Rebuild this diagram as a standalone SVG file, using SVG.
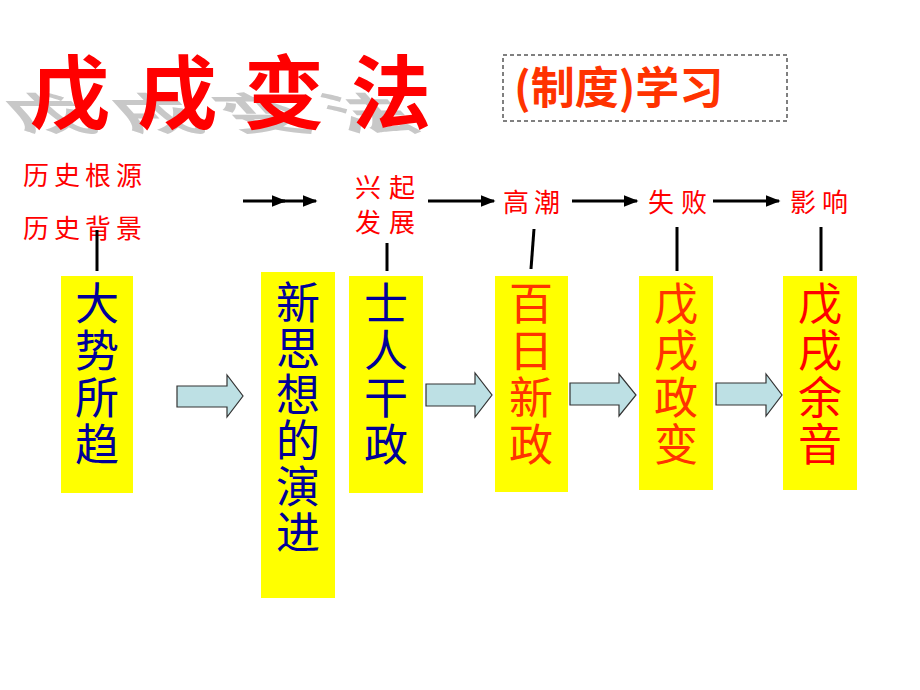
<svg xmlns="http://www.w3.org/2000/svg" width="920" height="690" viewBox="0 0 920 690">
<defs>
<style>
.box{fill:#FFFF00;}
.bt{font-family:"Noto Sans CJK SC","Noto Sans",sans-serif;font-size:44px;text-anchor:middle;}
.blue{fill:#000099;}
.orng{fill:#FF3300;}
.red{fill:#FF0000;}
.lbl{font-family:"Noto Sans CJK SC",sans-serif;font-size:26px;fill:#FF0000;}
.ln{stroke:#000;stroke-width:3;fill:none;}
.blk{fill:#BDE0E4;stroke:#333;stroke-width:1.2;}
</style>
<marker id="ah" viewBox="0 0 10 10" refX="9" refY="5" markerWidth="5" markerHeight="5" orient="auto" markerUnits="strokeWidth">
<path d="M0,1 L10,5 L0,9 z" fill="#000"/>
</marker>
</defs>
<rect width="920" height="690" fill="#fff"/>

<g id="title">
<text transform="matrix(1,0,0.5,0.55,0,130)" font-family="Noto Sans CJK SC,sans-serif" font-size="80" font-weight="bold" fill="#C8C8C8" letter-spacing="27" x="22" y="0">戊戌变法</text>
<text x="30" y="122" font-family="Noto Sans CJK SC,sans-serif" font-size="80" font-weight="bold" fill="#FF0000" letter-spacing="27">戊戌变法</text>
</g>

<g id="subtitle">
<rect x="503" y="55" width="284" height="66" fill="none" stroke="#000" stroke-width="1" stroke-dasharray="4,3"/>
<text x="514" y="104" font-family="Noto Sans CJK SC,sans-serif" font-size="44" font-weight="bold" fill="#FF3300">(制度)学习</text>
</g>

<g id="labels">
<text class="lbl" x="23" y="185" letter-spacing="5">历史根源</text>
<text class="lbl" x="23" y="238" letter-spacing="5">历史背景</text>
<text class="lbl" x="355" y="197" letter-spacing="8">兴起</text>
<text class="lbl" x="355" y="232" letter-spacing="8">发展</text>
<text class="lbl" x="503" y="212" letter-spacing="5">高潮</text>
<text class="lbl" x="648" y="212" letter-spacing="7">失败</text>
<text class="lbl" x="790" y="212" letter-spacing="6">影响</text>
</g>

<g id="connectors">
<line class="ln" x1="97" y1="230" x2="97" y2="271"/>
<line class="ln" x1="387" y1="243" x2="387" y2="271"/>
<line class="ln" x1="534" y1="229" x2="531" y2="269"/>
<line class="ln" x1="677" y1="227" x2="677" y2="271"/>
<line class="ln" x1="821" y1="227" x2="821" y2="271"/>
<line class="ln" x1="243" y1="201" x2="285" y2="201" marker-end="url(#ah)"/>
<line class="ln" x1="282" y1="201" x2="316" y2="201" marker-end="url(#ah)"/>
<line class="ln" x1="428" y1="201" x2="494" y2="201" marker-end="url(#ah)"/>
<line class="ln" x1="572" y1="201" x2="637" y2="201" marker-end="url(#ah)"/>
<line class="ln" x1="713" y1="201" x2="779" y2="201" marker-end="url(#ah)"/>
<polygon class="blk" points="177,386 227,386 227,375 243,396 227,417 227,407 177,407"/>
<polygon class="blk" points="426,384 475,384 475,373 492,395 475,417 475,406 426,406"/>
<polygon class="blk" points="570,383 619,383 619,374 636,395 619,416 619,405 570,405"/>
<polygon class="blk" points="716,383 766,383 766,374 782,395 766,416 766,405 716,405"/>
</g>

<g id="box1">
<rect class="box" x="61" y="276" width="72" height="217"/>
<text class="bt blue"><tspan x="97" y="320">大</tspan><tspan x="97" dy="47">势</tspan><tspan x="97" dy="47">所</tspan><tspan x="97" dy="47">趋</tspan></text>
</g>
<g id="box2">
<rect class="box" x="261" y="272" width="74" height="326"/>
<text class="bt blue"><tspan x="298" y="319">新</tspan><tspan x="298" dy="46">思</tspan><tspan x="298" dy="46">想</tspan><tspan x="298" dy="46">的</tspan><tspan x="298" dy="46">演</tspan><tspan x="298" dy="46">进</tspan></text>
</g>
<g id="box3">
<rect class="box" x="349" y="276" width="74" height="217"/>
<text class="bt blue"><tspan x="386" y="320">士</tspan><tspan x="386" dy="47">人</tspan><tspan x="386" dy="47">干</tspan><tspan x="386" dy="47">政</tspan></text>
</g>
<g id="box4">
<rect class="box" x="495" y="276" width="73" height="216"/>
<text class="bt orng"><tspan x="531" y="320">百</tspan><tspan x="531" dy="47">日</tspan><tspan x="531" dy="47">新</tspan><tspan x="531" dy="47">政</tspan></text>
</g>
<g id="box5">
<rect class="box" x="639" y="276" width="74" height="214"/>
<text class="bt orng"><tspan x="676" y="320">戊</tspan><tspan x="676" dy="47">戌</tspan><tspan x="676" dy="47">政</tspan><tspan x="676" dy="47">变</tspan></text>
</g>
<g id="box6">
<rect class="box" x="783" y="276" width="74" height="214"/>
<text class="bt red"><tspan x="820" y="320">戊</tspan><tspan x="820" dy="47">戌</tspan><tspan x="820" dy="47">余</tspan><tspan x="820" dy="47">音</tspan></text>
</g>
</svg>
